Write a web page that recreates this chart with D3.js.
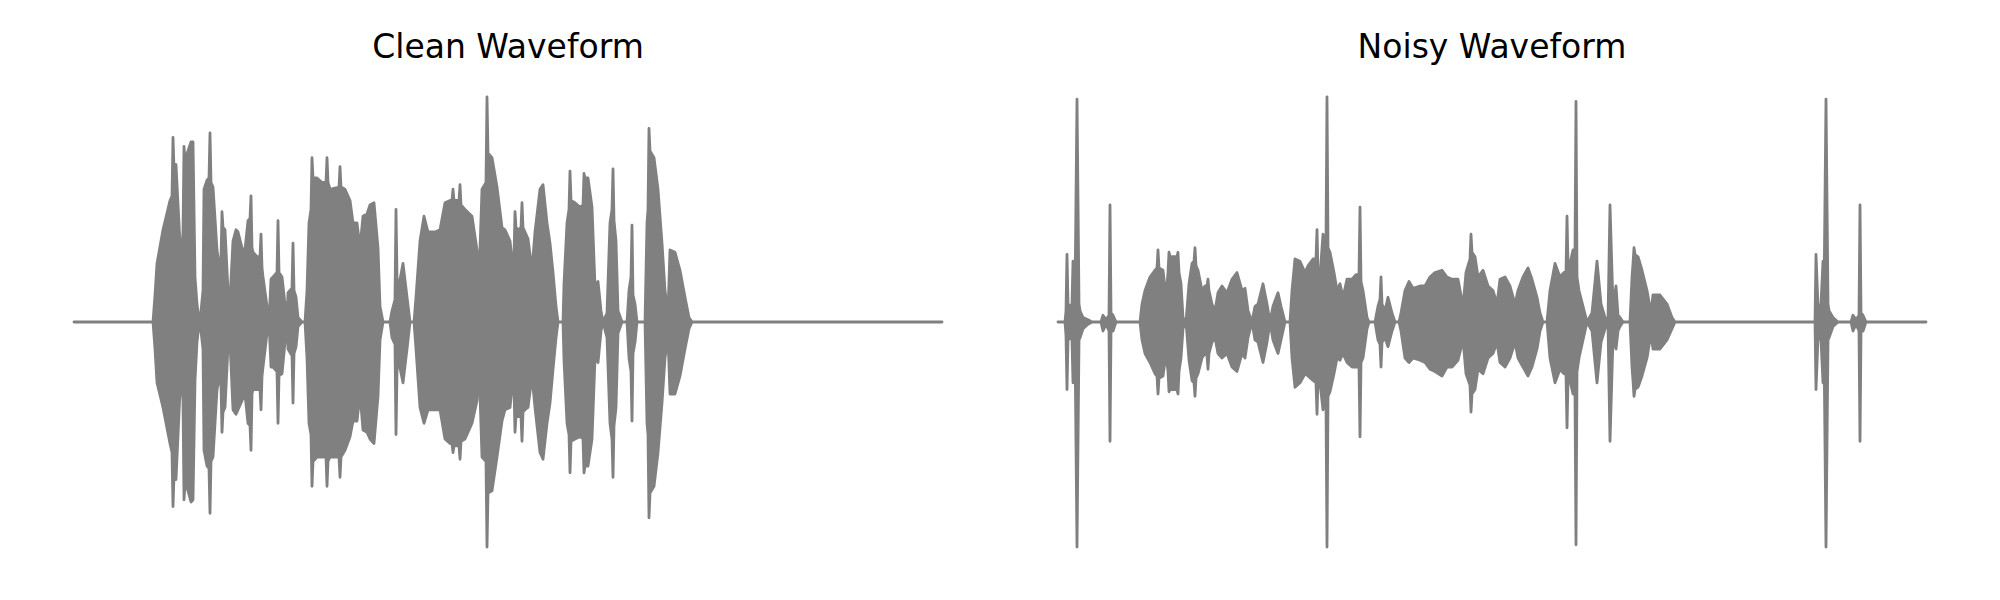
<!DOCTYPE html>
<html>
<head>
<meta charset="utf-8">
<script src="https://cdn.jsdelivr.net/npm/d3@7"></script>
<style>
  html, body { margin: 0; padding: 0; background: #ffffff; }
  svg { display: block; }
</style>
</head>
<body>
<svg id="chart" width="2000" height="600"></svg>
<script>
// ---------------- DATA ----------------
const panelTitles = ["Clean Waveform", "Noisy Waveform"];
const durationMs = 4340;

// Envelope of the clean waveform: [time (ms), upper amplitude, lower amplitude]
const cleanEnvelope = [
  [0,0,0],[395,0,0],[405,0.12,-0.12],[415,0.26,-0.27],[445,0.41,-0.38],[480,0.54,-0.54],
  [490,0.56,-0.58],[495,0.82,-0.82],[500,0.68,-0.68],[510,0.70,-0.70],[535,0.26,-0.21],
  [545,0.40,-0.35],[550,0.78,-0.79],[555,0.72,-0.72],[570,0.76,-0.75],
  [585,0.80,-0.80],[595,0.80,-0.79],[605,0.20,-0.26],[615,0.08,-0.09],[625,0.01,-0.01],
  [630,0,0],[645,0.14,-0.12],[650,0.59,-0.57],[665,0.63,-0.64],[675,0.64,-0.65],
  [680,0.84,-0.85],[685,0.62,-0.62],
  [695,0.60,-0.60],[715,0.32,-0.30],[725,0.26,-0.26],[735,0.28,-0.28],[740,0.49,-0.49],
  [745,0.42,-0.40],[755,0.41,-0.38],
  [770,0.14,-0.11],[780,0.10,-0.09],[795,0.36,-0.39],[810,0.41,-0.41],[820,0.40,-0.39],
  [840,0.33,-0.35],[855,0.32,-0.32],[870,0.45,-0.45],[880,0.46,-0.46],[885,0.56,-0.57],
  [890,0.33,-0.32],[895,0.31,-0.30],
  [915,0.29,-0.30],[930,0.29,-0.30],[935,0.39,-0.39],[940,0.24,-0.24],[945,0.20,-0.20],
  [965,0.07,-0.05],[975,0,0],
  [985,0.19,-0.20],[995,0.20,-0.20],[1015,0.22,-0.22],[1020,0.45,-0.45],[1025,0.22,-0.24],
  [1040,0.20,-0.23],[1055,0.08,-0.09],
  [1065,0,0],[1070,0.13,-0.12],[1090,0.15,-0.15],[1095,0.35,-0.36],[1100,0.14,-0.14],
  [1110,0.11,-0.11],[1120,0.02,-0.02],
  [1140,0,0],[1155,0,0],[1165,0.14,-0.16],[1175,0.44,-0.45],[1185,0.50,-0.50],
  [1190,0.73,-0.73],[1195,0.64,-0.62],
  [1215,0.64,-0.60],[1240,0.62,-0.60],[1260,0.62,-0.60],[1265,0.73,-0.73],[1270,0.62,-0.62],
  [1280,0.59,-0.60],[1325,0.60,-0.60],[1330,0.69,-0.69],[1335,0.60,-0.60],
  [1355,0.59,-0.57],[1380,0.54,-0.51],[1395,0.44,-0.44],[1415,0.44,-0.44],[1430,0.33,-0.32],
  [1445,0.47,-0.48],[1465,0.48,-0.49],[1480,0.52,-0.52],[1500,0.53,-0.54],[1520,0.33,-0.33],
  [1530,0.07,-0.08],[1545,0,0],[1580,0,0],[1590,0.05,-0.07],[1605,0.10,-0.10],
  [1610,0.50,-0.50],[1615,0.20,-0.22],
  [1620,0.14,-0.16],[1645,0.26,-0.27],[1665,0.11,-0.12],[1680,0,0],[1700,0,0],
  [1710,0.11,-0.12],[1730,0.36,-0.38],[1750,0.47,-0.45],[1770,0.40,-0.39],[1805,0.40,-0.39],
  [1830,0.41,-0.39],[1855,0.53,-0.52],[1880,0.54,-0.54],[1890,0.54,-0.54],[1895,0.59,-0.58],
  [1900,0.54,-0.55],[1915,0.54,-0.55],[1925,0.54,-0.55],
  [1930,0.61,-0.61],[1935,0.52,-0.53],[1955,0.50,-0.52],[1990,0.47,-0.45],[2015,0.32,-0.35],
  [2025,0.19,-0.18],
  [2040,0.59,-0.60],[2060,0.62,-0.62],[2065,1.00,-1.00],[2070,0.75,-0.76],[2090,0.73,-0.75],
  [2115,0.60,-0.60],[2140,0.42,-0.44],
  [2155,0.41,-0.39],[2180,0.36,-0.38],[2190,0.28,-0.29],[2200,0.29,-0.30],[2205,0.49,-0.49],
  [2210,0.42,-0.42],[2220,0.41,-0.42],
  [2235,0.42,-0.42],[2240,0.53,-0.53],[2245,0.42,-0.40],[2255,0.40,-0.39],[2270,0.37,-0.38],
  [2290,0.23,-0.24],[2305,0.40,-0.38],
  [2330,0.59,-0.58],[2345,0.61,-0.61],[2365,0.44,-0.45],[2380,0.35,-0.36],[2395,0.22,-0.21],
  [2410,0.07,-0.07],[2420,0,0],[2445,0,0],[2450,0.17,-0.17],[2465,0.44,-0.45],
  [2475,0.50,-0.50],[2480,0.67,-0.67],[2485,0.54,-0.53],[2505,0.53,-0.52],[2530,0.51,-0.51],
  [2545,0.52,-0.52],[2550,0.66,-0.67],[2555,0.64,-0.64],[2570,0.64,-0.64],
  [2590,0.51,-0.52],[2605,0.16,-0.16],[2620,0.18,-0.18],[2635,0.05,-0.04],[2645,0,0],
  [2665,0.04,-0.07],[2680,0.44,-0.45],[2690,0.50,-0.52],[2695,0.68,-0.69],[2700,0.45,-0.46],
  [2710,0.36,-0.38],[2720,0.05,-0.05],
  [2740,0,0],[2765,0,0],[2775,0.14,-0.16],[2785,0.20,-0.22],[2790,0.43,-0.44],
  [2795,0.12,-0.14],[2805,0.08,-0.09],[2815,0,0],
  [2855,0,0],[2865,0.44,-0.45],[2870,0.50,-0.50],[2875,0.86,-0.87],[2880,0.76,-0.76],
  [2900,0.73,-0.73],[2920,0.59,-0.58],
  [2940,0.35,-0.36],[2955,0.14,-0.16],[2970,0.04,-0.07],[2980,0.32,-0.32],[3005,0.31,-0.32],
  [3030,0.23,-0.24],[3055,0.11,-0.12],[3075,0.02,-0.03],[3090,0,0],[4340,0,0]
];

// Envelope of the noisy waveform: [time (ms), upper amplitude, lower amplitude]
const noisyEnvelope = [
  [0,0,0],[35,0,0],[40,0.05,-0.06],[45,0.30,-0.30],[50,0.08,-0.08],[60,0.07,-0.07],
  [70,0.08,-0.08],[75,0.27,-0.27],[85,0.10,-0.09],[95,0.99,-1.00],[105,0.08,-0.08],
  [110,0.05,-0.07],[125,0.02,-0.03],[150,0.01,-0.01],[170,0,0],[215,0,0],[225,0.03,-0.04],
  [240,0.01,-0.01],[255,0.03,-0.04],[260,0.52,-0.53],[265,0.04,-0.04],[275,0.03,-0.04],
  [290,0,0],[410,0,0],[420,0.08,-0.08],[435,0.14,-0.14],[460,0.20,-0.18],[485,0.23,-0.23],
  [495,0.24,-0.24],[500,0.32,-0.32],[505,0.24,-0.25],[525,0.23,-0.24],[540,0.11,-0.14],
  [550,0.22,-0.22],[555,0.31,-0.31],[560,0.29,-0.30],[575,0.29,-0.30],
  [595,0.29,-0.30],[600,0.31,-0.32],[605,0.22,-0.22],[615,0.17,-0.16],[625,0.02,-0.03],
  [640,0,0],[655,0.17,-0.17],
  [670,0.26,-0.26],[680,0.27,-0.27],[685,0.33,-0.33],[690,0.25,-0.25],[700,0.23,-0.23],
  [720,0.14,-0.16],[735,0.16,-0.14],
  [745,0.16,-0.15],[750,0.19,-0.21],[755,0.14,-0.14],[770,0.08,-0.09],[785,0.05,-0.07],
  [800,0.13,-0.14],[820,0.16,-0.16],
  [845,0.13,-0.14],[870,0.19,-0.20],[895,0.22,-0.22],[920,0.14,-0.14],[935,0.15,-0.16],
  [950,0.05,-0.07],[970,0,0],[985,0.07,-0.08],[1000,0.08,-0.09],[1025,0.17,-0.18],
  [1045,0.08,-0.09],[1060,0,0],[1075,0.07,-0.08],[1100,0.13,-0.14],[1115,0.07,-0.08],
  [1135,0,0],[1160,0,0],[1170,0.14,-0.16],[1185,0.28,-0.29],[1210,0.27,-0.27],
  [1235,0.22,-0.23],[1250,0.25,-0.24],[1275,0.28,-0.26],[1290,0.28,-0.27],[1295,0.41,-0.41],
  [1300,0.22,-0.25],[1310,0.20,-0.27],
  [1325,0.39,-0.39],[1340,0.36,-0.36],[1345,1.00,-1.00],[1350,0.33,-0.33],[1360,0.31,-0.31],
  [1380,0.22,-0.23],[1395,0.14,-0.16],
  [1410,0.17,-0.17],[1425,0.11,-0.14],[1445,0.19,-0.18],[1470,0.19,-0.20],[1490,0.21,-0.20],
  [1505,0.21,-0.20],[1510,0.51,-0.51],[1515,0.18,-0.18],[1525,0.14,-0.16],[1545,0.02,-0.03],
  [1555,0,0],[1585,0,0],
  [1600,0.07,-0.08],[1610,0.10,-0.10],[1615,0.20,-0.20],[1620,0.08,-0.09],[1635,0.05,-0.07],
  [1650,0.11,-0.11],[1670,0.04,-0.04],
  [1685,0,0],[1705,0,0],[1715,0.04,-0.04],[1735,0.14,-0.16],[1755,0.18,-0.18],
  [1775,0.15,-0.16],[1810,0.16,-0.17],[1835,0.16,-0.18],[1860,0.20,-0.21],[1885,0.22,-0.22],
  [1920,0.23,-0.24],[1945,0.20,-0.20],[1970,0.19,-0.20],[2000,0.19,-0.17],[2025,0.07,-0.08],
  [2040,0.22,-0.23],[2060,0.28,-0.28],[2065,0.39,-0.40],[2070,0.31,-0.32],[2085,0.29,-0.30],
  [2100,0.20,-0.21],[2125,0.23,-0.23],
  [2150,0.16,-0.16],[2175,0.14,-0.14],[2195,0.08,-0.09],[2210,0.19,-0.18],[2235,0.20,-0.20],
  [2260,0.16,-0.16],[2285,0.08,-0.09],[2300,0.14,-0.16],[2325,0.20,-0.20],[2350,0.24,-0.24],
  [2370,0.19,-0.20],[2395,0.11,-0.12],[2410,0.04,-0.04],[2425,0,0],[2445,0,0],
  [2460,0.14,-0.16],[2485,0.26,-0.27],[2510,0.20,-0.21],[2530,0.22,-0.23],[2540,0.22,-0.23],
  [2545,0.47,-0.47],[2550,0.26,-0.26],
  [2560,0.26,-0.26],[2575,0.32,-0.32],[2585,0.32,-0.32],[2590,0.98,-0.99],[2595,0.20,-0.22],
  [2605,0.14,-0.16],[2625,0.07,-0.08],
  [2645,0,0],[2670,0.04,-0.04],[2695,0.27,-0.27],[2715,0.08,-0.09],[2735,0.02,-0.03],
  [2750,0.01,-0.01],[2760,0.52,-0.53],[2775,0.07,-0.07],[2790,0.16,-0.12],[2800,0.03,-0.04],
  [2810,0.02,-0.02],[2825,0,0],[2860,0,0],[2870,0.20,-0.20],[2875,0.26,-0.26],
  [2880,0.33,-0.33],[2885,0.30,-0.30],
  [2900,0.29,-0.29],[2920,0.23,-0.24],[2945,0.14,-0.16],[2965,0.04,-0.05],[2975,0.12,-0.12],
  [3010,0.12,-0.12],[3045,0.08,-0.08],[3070,0.02,-0.03],[3085,0,0],[3785,0,0],
  [3790,0.30,-0.30],[3800,0.07,-0.07],[3815,0.08,-0.08],[3825,0.27,-0.27],[3830,0.10,-0.09],
  [3840,0.99,-1.00],[3850,0.08,-0.08],[3855,0.05,-0.07],[3875,0.02,-0.02],[3900,0,0],
  [3965,0,0],[3975,0.03,-0.04],[3990,0.01,-0.01],[4005,0.03,-0.04],[4010,0.52,-0.53],
  [4015,0.04,-0.04],[4025,0.03,-0.04],[4040,0,0],[4340,0,0]
];

// ---------------- LAYOUT ----------------
const svg = d3.select("#chart");
const waveColor = "#808080";
const panels = [
  { title: panelTitles[0], data: cleanEnvelope, left: 30.6 },
  { title: panelTitles[1], data: noisyEnvelope, left: 1014.6 }
];
const axW = 954.8, axTop = 74.5, axH = 495;
const pad = durationMs * 0.05;

panels.forEach(p => {
  const g = svg.append("g").attr("transform", `translate(${p.left},${axTop})`);
  const x = d3.scaleLinear().domain([-pad, durationMs + pad]).range([0, axW]);
  const y = d3.scaleLinear().domain([-1.1, 1.1]).range([axH, 0]);

  const area = d3.area()
    .x(d => x(d[0]))
    .y0(d => y(d[2]))
    .y1(d => y(d[1]))
    .curve(d3.curveLinear);

  g.append("path")
    .datum(p.data)
    .attr("d", area)
    .attr("fill", waveColor)
    .attr("stroke", waveColor)
    .attr("stroke-width", 2.8)
    .attr("stroke-linejoin", "round")
    .attr("stroke-linecap", "round");

  svg.append("text")
    .attr("x", p.left + axW / 2)
    .attr("y", 58)
    .attr("text-anchor", "middle")
    .attr("font-family", "DejaVu Sans, sans-serif")
    .attr("font-size", 33)
    .attr("fill", "#000000")
    .text(p.title);
});
</script>
</body>
</html>
